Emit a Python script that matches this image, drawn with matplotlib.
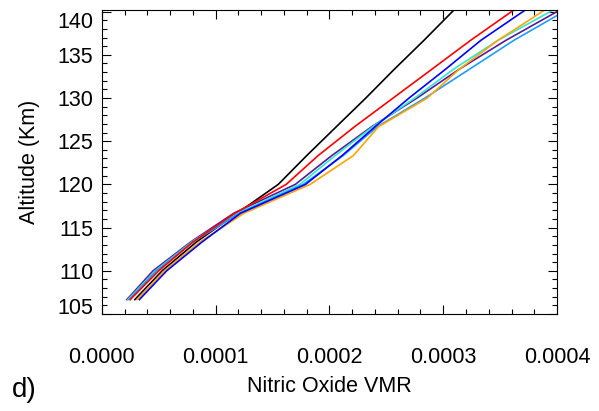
import numpy as np
import matplotlib
matplotlib.use("Agg")
import matplotlib.pyplot as plt
from matplotlib.ticker import MultipleLocator, FormatStrFormatter

plt.rcParams['font.family'] = ['Liberation Sans', 'DejaVu Sans']

# altitude grid (km) shared by all profiles
altitude = [106.67, 110.0, 113.33, 116.67, 120.0, 123.33, 126.67,
            130.0, 133.33, 136.67, 140.0, 143.33]

# NO volume mixing ratio, units of 1e-4
no_black = [0.29, 0.53, 0.83, 1.19, 1.55, 1.80, 2.06, 2.32, 2.57, 2.83, 3.08, 3.34]
no_red = [0.25, 0.50, 0.80, 1.17, 1.62, 1.90, 2.22, 2.56, 2.90, 3.24, 3.60, 3.97]
no_purple = [0.22, 0.45, 0.78, 1.16, 1.70, 2.02, 2.37, 2.77, 3.14, 3.55, 4.00, 4.45]
no_cyan = [0.23, 0.47, 0.79, 1.19, 1.74, 2.05, 2.38, 2.75, 3.09, 3.48, 3.94, 4.40]
no_blue = [0.33, 0.57, 0.88, 1.22, 1.79, 2.11, 2.40, 2.70, 3.02, 3.33, 3.70, 4.08]
no_ltblue = [0.24, 0.48, 0.80, 1.21, 1.77, 2.12, 2.42, 2.84, 3.23, 3.62, 4.06, 4.50]
no_orange = [0.31, 0.55, 0.86, 1.25, 1.83, 2.21, 2.43, 2.86, 3.14, 3.48, 3.87, 4.28]

yticks = [105, 110, 115, 120, 125, 130, 135, 140]

profiles = [
    (no_black, 'black'),
    (no_purple, '#5a1a9a'),
    (no_cyan, '#30e8d0'),
    (no_ltblue, '#1e9cff'),
    (no_orange, '#ffa500'),
    (no_blue, '#0000ff'),
    (no_red, '#ff0000'),
]

fig = plt.figure(figsize=(5.99, 4.11), dpi=100)
ax = fig.add_axes([0.170, 0.236, 0.760, 0.740])

for vals, col in profiles:
    ax.plot(np.array(vals) * 1e-4, altitude, color=col, lw=1.2)

ax.set_xlim(0, 0.0004)
ax.set_ylim(105, 140.2)

ax.xaxis.set_major_locator(MultipleLocator(0.0001))
ax.xaxis.set_minor_locator(MultipleLocator(0.00002))
ax.xaxis.set_major_formatter(FormatStrFormatter('%.4f'))
ax.set_yticks(yticks)
labels = ax.set_yticklabels([str(t) for t in yticks])
ax.yaxis.set_minor_locator(MultipleLocator(1))

ax.tick_params(which='both', direction='in', top=True, right=True, width=0.8)
ax.tick_params(which='major', length=6.5)
ax.tick_params(which='minor', length=3.5)
ax.tick_params(axis='x', which='major', pad=24, labelsize=15.5)
ax.tick_params(axis='y', which='major', pad=6, labelsize=15.5)

# end labels sit inside the axis range, like the original
labels[0].set_va('baseline')
labels[-1].set_va('top')

ax.set_xlabel('Nitric Oxide VMR', fontsize=15.5)
ax.xaxis.set_label_coords(0.5, -0.205)
ax.set_ylabel('Altitude (Km)', fontsize=15.5)
ax.yaxis.set_label_coords(-0.135, 0.5)

fig.text(12 / 599, 1 - 397 / 411, 'd)', fontsize=20, ha='left', va='baseline')

fig.savefig('out.png', dpi=100)
